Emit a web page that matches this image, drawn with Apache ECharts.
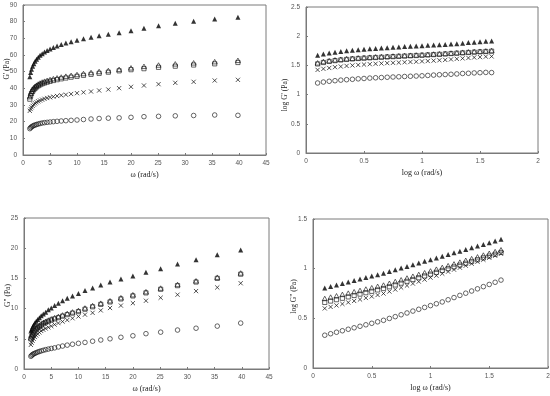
<!DOCTYPE html>
<html>
<head>
<meta charset="utf-8">
<script src="https://cdn.jsdelivr.net/npm/echarts@6/dist/echarts.min.js"></script>
<style>html,body{margin:0;padding:0;background:#fff;}#c{width:550px;height:396px;}</style>
</head>
<body>
<div id="c"></div>
<script>
const omega = [1.26,1.41,1.58,1.78,2.00,2.24,2.51,2.82,3.16,3.55,3.98,4.47,5.01,5.62,6.31,7.08,7.94,8.91,10.0,11.2,12.6,14.1,15.8,17.8,20.0,22.4,25.1,28.2,31.6,35.5,39.8];
const logOmega = [0.10,0.15,0.20,0.25,0.30,0.35,0.40,0.45,0.50,0.55,0.60,0.65,0.70,0.75,0.80,0.85,0.90,0.95,1.00,1.05,1.10,1.15,1.20,1.25,1.30,1.35,1.40,1.45,1.50,1.55,1.60];

// G' (Pa)
const gpFilledTri = [47.0,49.5,51.5,53.2,54.8,56.2,57.5,58.7,59.8,60.8,61.8,62.7,63.6,64.5,65.4,66.3,67.2,68.0,68.9,69.8,70.6,71.5,72.4,73.4,74.5,76.0,77.6,79.0,80.3,81.6,82.7];
const gpOpenTri = [35.0,36.8,38.2,39.4,40.4,41.2,41.9,42.6,43.2,43.8,44.3,44.8,45.3,45.8,46.3,46.8,47.3,47.8,48.3,48.9,49.5,50.1,50.7,51.4,52.3,53.2,54.0,54.7,55.3,56.0,56.8];
const gpSquare = [33.5,35.5,37.0,38.2,39.2,40.0,40.8,41.5,42.1,42.7,43.2,43.7,44.2,44.7,45.2,45.7,46.2,46.7,47.2,47.8,48.4,49.0,49.7,50.5,51.2,51.8,52.6,53.3,54.0,54.7,55.5];
const gpCross = [26.5,27.6,28.6,29.5,30.3,31.0,31.6,32.2,32.7,33.2,33.7,34.2,34.6,35.0,35.4,35.8,36.2,36.6,37.1,37.6,38.1,38.7,39.3,40.1,40.9,41.7,42.5,43.3,43.9,44.7,45.1];
const gpCircle = [15.8,16.4,16.9,17.3,17.7,18.0,18.3,18.6,18.9,19.2,19.4,19.6,19.8,20.0,20.2,20.4,20.6,20.8,21.0,21.3,21.6,21.9,22.1,22.3,22.6,23.0,23.2,23.5,23.7,24.0,23.8];

// log G'
const logGpFilledTri = [1.672,1.695,1.712,1.726,1.739,1.750,1.760,1.769,1.777,1.784,1.791,1.797,1.803,1.810,1.816,1.822,1.827,1.833,1.838,1.844,1.849,1.854,1.860,1.866,1.872,1.881,1.890,1.898,1.905,1.912,1.918];
const logGpOpenTri = [1.544,1.566,1.582,1.595,1.606,1.615,1.622,1.629,1.635,1.641,1.646,1.651,1.656,1.661,1.666,1.670,1.675,1.679,1.684,1.689,1.695,1.700,1.705,1.711,1.718,1.726,1.732,1.738,1.743,1.748,1.754];
const logGpSquare = [1.525,1.550,1.568,1.582,1.593,1.602,1.611,1.618,1.624,1.630,1.635,1.640,1.645,1.650,1.655,1.660,1.665,1.669,1.674,1.679,1.685,1.690,1.696,1.703,1.709,1.714,1.721,1.727,1.732,1.738,1.744];
const logGpCross = [1.423,1.441,1.456,1.470,1.481,1.491,1.500,1.508,1.515,1.521,1.528,1.534,1.539,1.544,1.549,1.554,1.559,1.563,1.569,1.575,1.581,1.588,1.594,1.603,1.612,1.620,1.628,1.636,1.642,1.650,1.654];
const logGpCircle = [1.199,1.215,1.228,1.238,1.248,1.255,1.262,1.270,1.276,1.283,1.288,1.292,1.297,1.301,1.305,1.310,1.314,1.318,1.322,1.328,1.334,1.340,1.344,1.348,1.354,1.362,1.365,1.371,1.375,1.380,1.377];

// G'' (Pa)
const gppFilledTri = [6.3,6.6,7.0,7.3,7.6,7.9,8.2,8.5,8.8,9.1,9.4,9.8,10.1,10.5,10.9,11.3,11.7,12.1,12.5,13.0,13.4,13.9,14.4,14.9,15.4,16.0,16.6,17.4,18.1,18.9,19.7];
const gppOpenTri = [5.2,5.6,5.9,6.2,6.5,6.8,7.0,7.2,7.45,7.7,7.9,8.1,8.3,8.5,8.7,8.95,9.2,9.45,9.7,10.1,10.5,10.9,11.3,11.8,12.3,12.8,13.4,14.0,14.6,15.2,15.9];
const gppSquare = [5.0,5.4,5.7,6.0,6.3,6.6,6.8,7.0,7.25,7.5,7.7,7.9,8.1,8.3,8.5,8.75,9.0,9.25,9.5,9.9,10.3,10.7,11.1,11.6,12.1,12.6,13.2,13.8,14.4,15.0,15.7];
const gppCross = [4.0,4.35,4.7,5.0,5.3,5.55,5.8,6.05,6.3,6.5,6.7,6.9,7.1,7.35,7.6,7.85,8.1,8.4,8.7,9.0,9.3,9.7,10.1,10.5,10.9,11.3,11.8,12.3,12.9,13.5,14.2];
const gppCircle = [2.1,2.25,2.4,2.5,2.6,2.7,2.8,2.9,3.0,3.1,3.2,3.3,3.4,3.5,3.65,3.8,3.95,4.1,4.25,4.4,4.6,4.8,5.0,5.25,5.5,5.85,6.1,6.45,6.75,7.1,7.6];

// log G''
const logGppFilledTri = [0.805,0.820,0.835,0.850,0.865,0.880,0.895,0.910,0.925,0.940,0.955,0.972,0.989,1.006,1.023,1.040,1.057,1.074,1.091,1.108,1.125,1.142,1.159,1.176,1.193,1.210,1.227,1.244,1.261,1.278,1.295];
const logGppOpenTri = [0.700,0.714,0.727,0.741,0.754,0.768,0.781,0.795,0.808,0.822,0.835,0.853,0.871,0.888,0.906,0.924,0.942,0.959,0.977,0.995,1.013,1.030,1.048,1.066,1.084,1.101,1.119,1.137,1.155,1.172,1.190];
const logGppSquare = [0.660,0.674,0.688,0.702,0.716,0.730,0.744,0.758,0.772,0.786,0.800,0.818,0.836,0.854,0.873,0.891,0.909,0.927,0.945,0.963,0.982,1.000,1.018,1.036,1.054,1.072,1.090,1.109,1.127,1.145,1.163];
const logGppCross = [0.600,0.615,0.630,0.645,0.660,0.675,0.690,0.705,0.720,0.735,0.750,0.770,0.790,0.810,0.830,0.850,0.870,0.890,0.910,0.930,0.950,0.970,0.990,1.010,1.030,1.050,1.070,1.090,1.110,1.130,1.150];
const logGppCircle = [0.330,0.345,0.360,0.375,0.390,0.405,0.420,0.435,0.450,0.465,0.480,0.499,0.517,0.536,0.554,0.573,0.591,0.610,0.628,0.647,0.665,0.687,0.709,0.731,0.753,0.775,0.797,0.819,0.841,0.863,0.885];

const xTitles = ['ω (rad/s)', 'log ω (rad/s)', 'ω (rad/s)', 'log ω (rad/s)'];
const yTitles = ["G' (Pa)", "log G' (Pa)", 'G" (Pa)', 'log G" (Pa)'];

const frame = '#7a7a7a';
const labelFont = {fontFamily: 'Liberation Sans', fontSize: 6.5, color: '#555'};
const titleFont = {fontFamily: 'Liberation Serif', fontSize: 8, color: '#222'};
const yTitleFont = {fontFamily: 'Liberation Serif', fontSize: 7.5, color: '#222'};

const grids = [
  {left: 23, top: 5, width: 243, height: 150},
  {left: 306, top: 7, width: 232, height: 146},
  {left: 24, top: 218, width: 245, height: 151},
  {left: 313, top: 219, width: 235, height: 149}
].map(g => Object.assign({show: true, borderColor: frame, borderWidth: 1, backgroundColor: 'transparent', containLabel: false, outerBoundsMode: 'none'}, g));

const xRanges = [[0,45,5],[0,2,0.5],[0,45,5],[0,2,0.5]];
const yRanges = [[0,90,10],[0,2.5,0.5],[0,25,5],[0,1.5,0.5]];
const yNameGaps = [11.5, 17, 12, 15];
const yNamePads = [[0,0,0,22],[0,30,0,0],[0,4,0,0],[0,6,0,0]];

const xAxes = xRanges.map((r, i) => ({
  type: 'value', gridIndex: i, min: r[0], max: r[1], interval: r[2],
  name: xTitles[i], nameLocation: 'middle', nameGap: 15.5, nameMoveOverlap: false, nameTextStyle: titleFont,
  axisLine: {show: true, lineStyle: {color: frame, width: 1}},
  axisTick: {show: true, inside: true, length: 2, lineStyle: {color: frame}},
  axisLabel: Object.assign({margin: 5}, labelFont),
  splitLine: {show: false}
}));
const yAxes = yRanges.map((r, i) => ({
  type: 'value', gridIndex: i, min: r[0], max: r[1], interval: r[2],
  name: yTitles[i], nameLocation: 'middle', nameGap: yNameGaps[i], nameRotate: 90, nameMoveOverlap: false,
  nameTextStyle: Object.assign({padding: yNamePads[i]}, yTitleFont),
  axisLine: {show: true, lineStyle: {color: frame, width: 1}},
  axisTick: {show: true, inside: true, length: 2, lineStyle: {color: frame}},
  axisLabel: Object.assign({margin: 6}, labelFont),
  splitLine: {show: false}
}));

const open = {color: 'rgba(0,0,0,0)', borderColor: '#111', borderWidth: 0.8};
const styles = {
  filledTri: {symbol: 'triangle', symbolSize: 5, itemStyle: {color: '#000'}},
  openTri: {symbol: 'triangle', symbolSize: [5, 4.5], itemStyle: open},
  square: {symbol: 'rect', symbolSize: 4.2, itemStyle: open},
  cross: {symbol: 'path://M0,0L10,10M10,0L0,10', symbolSize: 4.2, itemStyle: {color: 'rgba(0,0,0,0)', borderColor: '#111', borderWidth: 0.9}},
  circle: {symbol: 'circle', symbolSize: 4.6, itemStyle: open}
};

function mk(xs, ys, gi, key) {
  return Object.assign({
    type: 'scatter', xAxisIndex: gi, yAxisIndex: gi,
    data: xs.map((x, k) => [x, ys[k]]), silent: true
  }, styles[key]);
}

const series = [
  mk(omega, gpFilledTri, 0, 'filledTri'), mk(omega, gpOpenTri, 0, 'openTri'), mk(omega, gpSquare, 0, 'square'), mk(omega, gpCross, 0, 'cross'), mk(omega, gpCircle, 0, 'circle'),
  mk(logOmega, logGpFilledTri, 1, 'filledTri'), mk(logOmega, logGpOpenTri, 1, 'openTri'), mk(logOmega, logGpSquare, 1, 'square'), mk(logOmega, logGpCross, 1, 'cross'), mk(logOmega, logGpCircle, 1, 'circle'),
  mk(omega, gppFilledTri, 2, 'filledTri'), mk(omega, gppOpenTri, 2, 'openTri'), mk(omega, gppSquare, 2, 'square'), mk(omega, gppCross, 2, 'cross'), mk(omega, gppCircle, 2, 'circle'),
  mk(logOmega, logGppFilledTri, 3, 'filledTri'), mk(logOmega, logGppOpenTri, 3, 'openTri'), mk(logOmega, logGppSquare, 3, 'square'), mk(logOmega, logGppCross, 3, 'cross'), mk(logOmega, logGppCircle, 3, 'circle')
];

const chart = echarts.init(document.getElementById('c'), null, {renderer: 'canvas'});
chart.setOption({
  animation: false,
  backgroundColor: '#fff',
  grid: grids,
  xAxis: xAxes,
  yAxis: yAxes,
  series: series
});
</script>
</body>
</html>
